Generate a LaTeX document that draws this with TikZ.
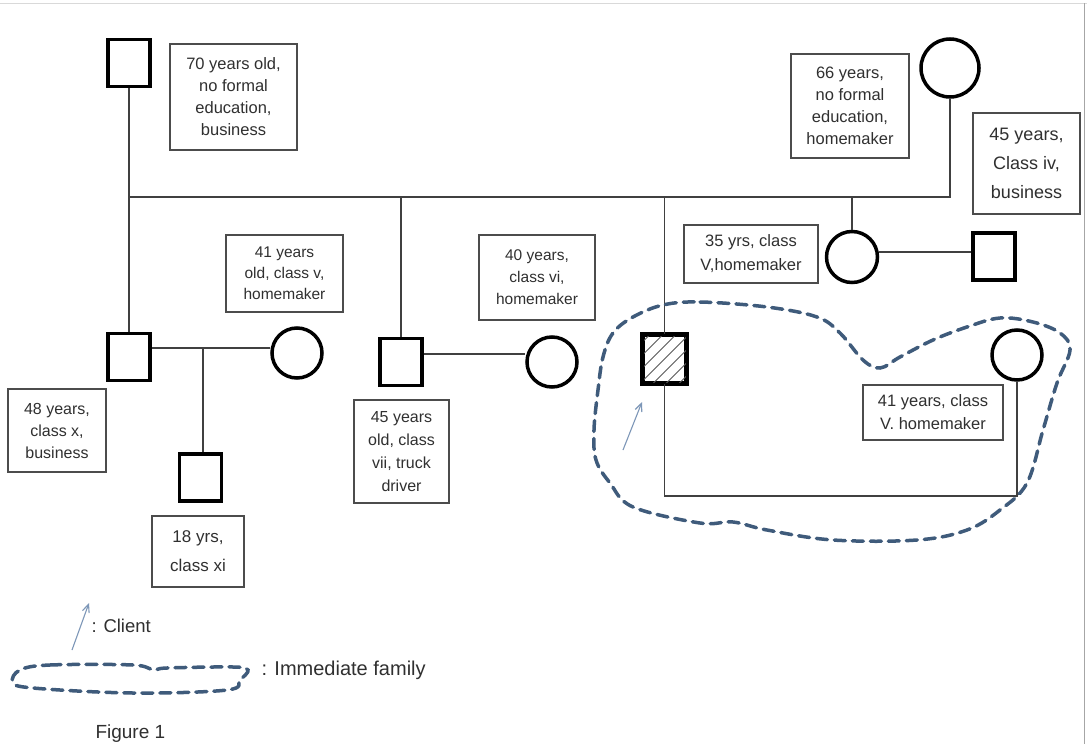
\documentclass[tikz,border=0pt]{standalone}
\usepackage{fontspec}
\setmainfont{Liberation Sans}
\usetikzlibrary{arrows.meta,calc}
\definecolor{blob}{HTML}{3F5B7B}
\definecolor{cli}{HTML}{7D97B8}
\definecolor{txt}{HTML}{303030}
\begin{document}
\begin{tikzpicture}[x=1pt,y=-1pt,
  male/.style={draw, line width=3.5pt, minimum width=42pt, minimum height=47pt, inner sep=0pt},
  female/.style={draw, circle, line width=3.5pt, minimum size=50pt, inner sep=0pt},
  pline/.style={line width=1.3pt, black!75},
  lbl/.style={draw=black!70, line width=1.2pt, align=center, inner sep=0pt, text=txt,
              font=\fontsize{16.5}{22}\selectfont},
  blobline/.style={draw=blob, line width=3.5pt, dash pattern=on 11pt off 7pt, line cap=round},
  cliarrow/.style={draw=cli, line width=1.1pt, -{Straight Barb[length=8pt,width=7pt]}},
  legtext/.style={anchor=west, text=txt}
]
\useasboundingbox (0,0) rectangle (1087,744);
\fill[white] (0,0) rectangle (1087,744);
\draw[black!15, line width=1pt] (0,3) -- (1087,3);
\draw[black!35, line width=1pt] (1084,3) -- (1084,744);

% persons
\node[male] (gf) at (129,63) {};
\node[female, minimum size=58pt] (gm) at (950,68) {};
\node[male] (s48) at (129,357) {};
\node[female] (w41) at (297,353) {};
\node[male] (s18) at (200.5,477.5) {};
\node[male] (s45) at (401,362) {};
\node[female] (w40) at (552,362) {};
\node[male] (cl) at (664.5,359) {};
\node[female] (w41r) at (1017,355) {};
\node[female, minimum size=51pt] (f35) at (852,257) {};
\node[male] (h45) at (994,256.5) {};

% hatching of client
\begin{scope}
  \clip (cl.south west) rectangle (cl.north east);
  \foreach \i in {-65,-52,...,65}
    \draw[black!65, line width=0.9pt] ($(cl.center)+(\i-30,30)$) -- ($(cl.center)+(\i+30,-30)$);
\end{scope}
\draw[line width=3.5pt] (cl.south west) rectangle (cl.north east);

% labels
\node[lbl, minimum width=127pt, minimum height=106pt] (t70) at (233.5,97) {70 years old,\\no formal\\education,\\business};
\node[lbl, minimum width=118pt, minimum height=104pt] (t66) at (850,106) {66 years,\\no formal\\education,\\homemaker};
\node[lbl, minimum width=107pt, minimum height=101pt, font=\fontsize{18}{29}\selectfont] (t45iv) at (1026.5,163.5) {45 years,\\Class iv,\\business};
\node[lbl, minimum width=134pt, minimum height=58pt, font=\fontsize{16.5}{24}\selectfont] (t35) at (751,254) {35 yrs, class\\V,homemaker};
\node[lbl, minimum width=117pt, minimum height=77pt, font=\fontsize{15.5}{21}\selectfont] (t41v) at (284.5,273.5) {41 years\\old, class v,\\homemaker};
\node[lbl, minimum width=116pt, minimum height=85pt, font=\fontsize{15.5}{22}\selectfont] (t40) at (537,277.5) {40 years,\\class vi,\\homemaker};
\node[lbl, minimum width=98pt, minimum height=83pt, font=\fontsize{16}{22}\selectfont] (t48) at (57,430.5) {48 years,\\class x,\\business};
\node[lbl, minimum width=95pt, minimum height=103pt, font=\fontsize{16}{23}\selectfont] (t45vii) at (401.5,451.5) {45 years\\old, class\\vii, truck\\driver};
\node[lbl, minimum width=92pt, minimum height=71pt, font=\fontsize{17}{29}\selectfont] (t18) at (198,551.5) {18 yrs,\\class xi};
\node[lbl, minimum width=140pt, minimum height=55pt, font=\fontsize{16.5}{23}\selectfont] (t41V) at (933,412.5) {41 years, class\\V. homemaker};

% connectors
\coordinate (sib) at (0,197);
\draw[pline] (gf.south) -- (s48.north);
\draw[pline] (gm.south) |- (gf.south |- sib);
\draw[pline] (s45.north) -- (s45.north |- sib);
\draw[pline] (cl.north) -- (cl.north |- sib);
\draw[pline] (f35.north) -- (f35.north |- sib);
\coordinate (m1) at (203,348);
\draw[pline] (s48.east |- m1) -- (w41.west |- m1);
\draw[pline] (m1) -- (m1 |- s18.north);
\coordinate (m2) at (470,354);
\draw[pline] (s45.east |- m2) -- (w40.west |- m2);
\coordinate (m3) at (925,252);
\draw[pline] (f35.east |- m3) -- (h45.west |- m3);
\coordinate (m4) at (840,496);
\draw[pline] (cl.south) -- (cl.south |- m4) -- (w41r.south |- m4) -- (w41r.south);

% client arrow
\coordinate (ca1) at (623,450);
\coordinate (ca2) at (642,402);
\draw[cliarrow] (ca1) -- (ca2);

% immediate family
\draw[blobline] plot[smooth cycle, tension=0.6] coordinates {
 (663,305) (700,302) (767,307) (817,317) (840,333) (863,360) (880,368) (900,357)
 (933,340) (967,327) (1000,318) (1033,322) (1060,333) (1070,350) (1057,383)
 (1043,430) (1027,483) (1000,510) (967,530) (917,540) (833,540) (767,530)
 (733,522) (700,523) (633,507) (610,483) (596,460) (594,430) (598,390)
 (603,357) (613,333) (633,317)};

% legend
\coordinate (la1) at (72,650);
\coordinate (la2) at (89,603);
\draw[cliarrow] (la1) -- (la2);
\node[legtext, font=\fontsize{18.5}{22}\selectfont] (lc) at (88,626) {: Client};
\draw[blobline] plot[smooth cycle, tension=0.6] coordinates {
 (20,670) (50,665) (133,665) (153,670) (167,668) (233,667) (248,670)
 (240,680) (227,690) (133,693) (33,688) (13,682)};
\node[legtext, font=\fontsize{20}{24}\selectfont] (lf) at (258,670) {: Immediate family};
\node[legtext, font=\fontsize{19}{22}\selectfont] (fig) at (92,734) {Figure 1};
\end{tikzpicture}
\end{document}
